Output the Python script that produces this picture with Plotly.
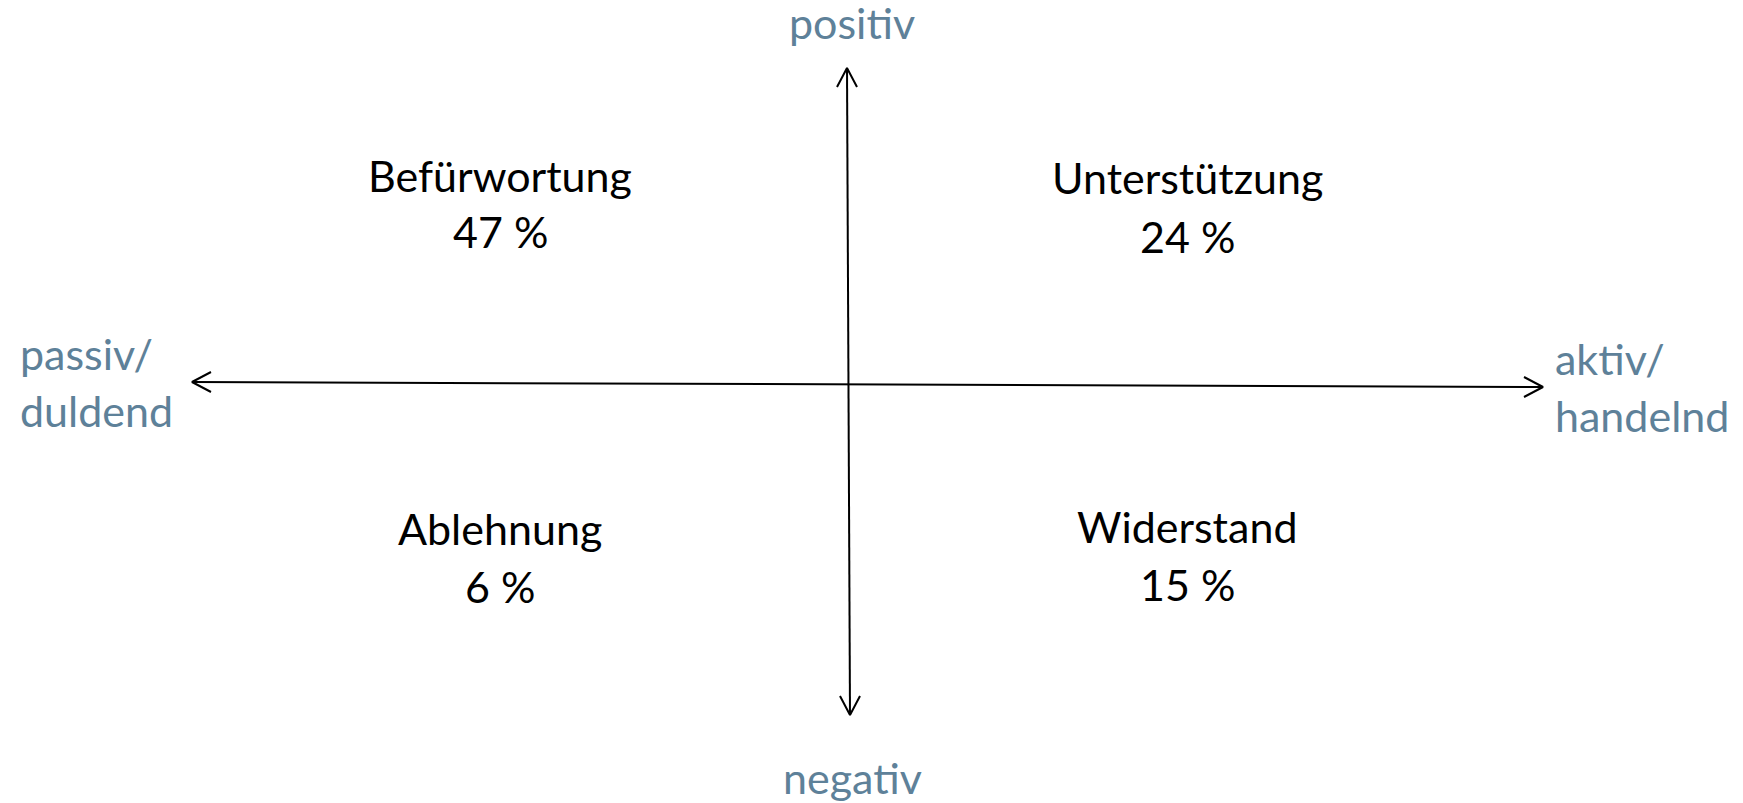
import plotly.graph_objects as go

# ---- data ----
quadrant_labels = ["Befürwortung", "Unterstützung", "Ablehnung", "Widerstand"]
quadrant_values = [47, 24, 6, 15]
axis_labels = ["positiv", "negativ", "passiv/<br>duldend", "aktiv/<br>handelnd"]

# ---- layout constants (pixel canvas; page body has an 8px margin) ----
W, H = 1743, 803
OFF = 8
FONT = "Lato, Calibri, Carlito, 'Open Sans', sans-serif"
BLUE = "#5E8199"
BLACK = "#000000"
FS = 43

# quadrant text centres (label line, value line)
quad_pos = [(500, 175, 231), (1187, 177, 236), (500, 528, 586), (1187, 526, 584)]

# axes (tip coords)
v_top, v_bot = (847, 68), (850, 715)
h_left, h_right = (192, 382), (1543, 387)
ARM_L, ARM_W = 19, 10

fig = go.Figure()

def line(xs, ys):
    fig.add_trace(go.Scatter(x=xs, y=ys, mode="lines",
                             line=dict(color=BLACK, width=2),
                             hoverinfo="skip", showlegend=False))

# main axes
line([v_top[0], v_bot[0]], [v_top[1], v_bot[1]])
line([h_left[0], h_right[0]], [h_left[1], h_right[1]])
# open arrowheads
line([v_top[0] - ARM_W, v_top[0], v_top[0] + ARM_W], [v_top[1] + ARM_L, v_top[1], v_top[1] + ARM_L])
line([v_bot[0] - ARM_W, v_bot[0], v_bot[0] + ARM_W], [v_bot[1] - ARM_L, v_bot[1], v_bot[1] - ARM_L])
line([h_left[0] + ARM_L, h_left[0], h_left[0] + ARM_L], [h_left[1] - ARM_W, h_left[1], h_left[1] + ARM_W])
line([h_right[0] - ARM_L, h_right[0], h_right[0] - ARM_L], [h_right[1] - ARM_W, h_right[1], h_right[1] + ARM_W])

annotations = []
for lab, val, (cx, y1, y2) in zip(quadrant_labels, quadrant_values, quad_pos):
    annotations.append(dict(x=cx, y=y1, text=lab, showarrow=False, xanchor="center", yanchor="middle",
                            font=dict(family=FONT, size=FS, color=BLACK)))
    annotations.append(dict(x=cx, y=y2, text=f"{val} %", showarrow=False, xanchor="center", yanchor="middle",
                            font=dict(family=FONT, size=FS, color=BLACK)))

# axis labels
annotations.append(dict(x=852, y=22, text=axis_labels[0], showarrow=False, xanchor="center", yanchor="middle",
                        font=dict(family=FONT, size=FS, color=BLUE)))
annotations.append(dict(x=852, y=777, text=axis_labels[1], showarrow=False, xanchor="center", yanchor="middle",
                        font=dict(family=FONT, size=FS, color=BLUE)))
for i, (lx, ly) in enumerate([(18, 381), (1553, 386)]):
    for j, part in enumerate(axis_labels[2 + i].split("<br>")):
        annotations.append(dict(x=lx, y=ly - 28 + j * 57, text=part, showarrow=False,
                                xanchor="left", yanchor="middle",
                                font=dict(family=FONT, size=FS, color=BLUE)))

fig.update_layout(
    width=W - OFF, height=H - OFF,
    margin=dict(l=0, r=0, t=0, b=0),
    paper_bgcolor="white", plot_bgcolor="white",
    xaxis=dict(range=[OFF, W], visible=False, fixedrange=True),
    yaxis=dict(range=[H, OFF], visible=False, fixedrange=True),
    annotations=annotations,
    showlegend=False,
)

fig.write_html("out.html", config={"displayModeBar": False})
